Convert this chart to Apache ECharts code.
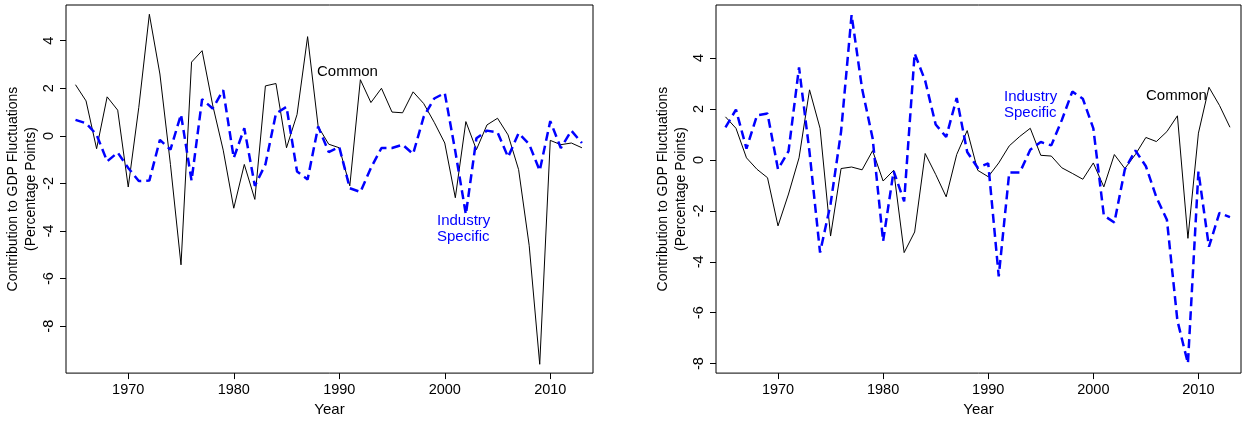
<!DOCTYPE html>
<html>
<head>
<meta charset="utf-8">
<script src="https://cdn.jsdelivr.net/npm/echarts@6/dist/echarts.min.js"></script>
<style>
html,body{margin:0;padding:0;background:#fff;}
#c{width:1243px;height:422px;}
</style>
</head>
<body>
<div id="c"></div>
<script>
const years = [1965,1966,1967,1968,1969,1970,1971,1972,1973,1974,1975,1976,1977,1978,1979,1980,1981,1982,1983,1984,1985,1986,1987,1988,1989,1990,1991,1992,1993,1994,1995,1996,1997,1998,1999,2000,2001,2002,2003,2004,2005,2006,2007,2008,2009,2010,2011,2012,2013];

const leftCommon = [2.15,1.47,-0.54,1.64,1.08,-2.15,1.2,5.11,2.6,-1.2,-5.42,3.1,3.58,1.3,-0.6,-3.04,-1.2,-2.67,2.1,2.2,-0.5,0.9,4.17,0.39,-0.35,-0.5,-2.1,2.36,1.4,2.0,1.0,0.97,1.85,1.36,0.57,-0.3,-2.6,0.6,-0.58,0.46,0.74,0.04,-1.42,-4.6,-9.6,-0.19,-0.37,-0.3,-0.5];
const leftIndustry = [0.67,0.53,0.05,-1.07,-0.7,-1.35,-1.9,-1.88,-0.17,-0.58,0.9,-1.88,1.54,1.15,1.92,-0.93,0.32,-2.1,-1.2,0.94,1.22,-1.5,-1.83,0.39,-0.68,-0.47,-2.2,-2.36,-1.35,-0.51,-0.51,-0.37,-0.76,0.8,1.57,1.8,-0.65,-3.3,-0.1,0.22,0.15,-0.89,0.11,-0.35,-1.46,0.62,-0.51,0.22,-0.3];

const rightCommon = [1.69,1.24,0.08,-0.37,-0.7,-2.59,-1.34,0.08,2.75,1.24,-2.99,-0.34,-0.28,-0.39,0.36,-0.83,-0.41,-3.64,-2.83,0.25,-0.57,-1.45,0.21,1.15,-0.41,-0.66,-0.12,0.55,0.92,1.24,0.18,0.15,-0.31,-0.53,-0.76,-0.12,-1.06,0.21,-0.34,0.21,0.88,0.72,1.11,1.73,-3.08,1.05,2.85,2.14,1.28];
const rightIndustry = [1.28,1.97,0.44,1.75,1.82,-0.37,0.34,3.63,0.3,-3.64,-1.73,1.11,5.69,2.79,0.85,-3.19,-0.44,-1.63,4.18,3.11,1.39,0.9,2.43,0.31,-0.31,-0.14,-4.57,-0.5,-0.5,0.4,0.7,0.57,1.56,2.68,2.4,1.24,-2.18,-2.46,-0.37,0.37,-0.25,-1.47,-2.35,-6.31,-7.99,-0.46,-3.41,-2.08,-2.25];

const xTicks = [1970,1980,1990,2000,2010];
const yTicks = [-8,-6,-4,-2,0,2,4];

const seriesNames = ['Common','Industry Specific'];
const yTitle = 'Contribution to GDP Fluctuations\n(Percentage Points)';
const xTitle = 'Year';

const FONT = 'Liberation Sans, Arial, sans-serif';
const pairs = (vals) => years.map((y,i)=>[y, vals[i]]);

function xAxisCfg(gi){
  return {
    type:'value', gridIndex:gi, min:1964.1, max:2014.05,
    axisLine:{show:false, onZero:false},
    axisTick:{show:true, inside:false, length:6, lineStyle:{color:'#000',width:1}, customValues:xTicks},
    axisLabel:{show:true, margin:9, color:'#000', fontSize:14.5, fontFamily:FONT, customValues:xTicks, formatter:(v)=>String(v)},
    splitLine:{show:false},
    name:xTitle, nameLocation:'middle', nameGap:27,
    nameTextStyle:{color:'#000', fontSize:15, fontFamily:FONT}
  };
}
function yAxisCfg(gi,mn,mx){
  return {
    type:'value', gridIndex:gi, min:mn, max:mx,
    axisLine:{show:false, onZero:false},
    axisTick:{show:true, inside:false, length:6, lineStyle:{color:'#000',width:1}, customValues:yTicks},
    axisLabel:{show:true, rotate:90, margin:10, color:'#000', fontSize:14.5, fontFamily:FONT, customValues:yTicks, formatter:(v)=>String(v)},
    splitLine:{show:false},
    name:yTitle, nameLocation:'middle', nameRotate:90, nameGap:24,
    nameTextStyle:{color:'#000', fontSize:14, fontFamily:FONT, lineHeight:18, align:'center'}
  };
}

const chart = echarts.init(document.getElementById('c'), null, {renderer:'canvas'});
chart.setOption({
  animation:false,
  backgroundColor:'#fff',
  grid:[
    {left:66, top:5, width:527, height:373, show:true, borderColor:'#000', borderWidth:1, backgroundColor:'transparent'},
    {left:716, top:5, width:525, height:373, show:true, borderColor:'#000', borderWidth:1, backgroundColor:'transparent'}
  ],
  xAxis:[xAxisCfg(0), xAxisCfg(1)],
  yAxis:[yAxisCfg(0,-9.97,5.5), yAxisCfg(1,-8.37,6.08)],
  series:[
    {name:seriesNames[0], type:'line', xAxisIndex:0, yAxisIndex:0, data:pairs(leftCommon), showSymbol:false, symbol:'none', lineStyle:{color:'#000', width:1}, z:2},
    {name:seriesNames[1], type:'line', xAxisIndex:0, yAxisIndex:0, data:pairs(leftIndustry), showSymbol:false, symbol:'none', lineStyle:{color:'#0000ff', width:2.5, type:[9,5]}, z:3},
    {name:seriesNames[0], type:'line', xAxisIndex:1, yAxisIndex:1, data:pairs(rightCommon), showSymbol:false, symbol:'none', lineStyle:{color:'#000', width:1}, z:2},
    {name:seriesNames[1], type:'line', xAxisIndex:1, yAxisIndex:1, data:pairs(rightIndustry), showSymbol:false, symbol:'none', lineStyle:{color:'#0000ff', width:2.5, type:[9,5]}, z:3}
  ],
  graphic:[
    {type:'text', left:317, top:64, style:{text:'Common', fill:'#000', font:'15px '+FONT}},
    {type:'text', left:437, top:213, style:{text:'Industry\nSpecific', fill:'#0000ff', font:'15px '+FONT, align:'center', lineHeight:16, width:56}},
    {type:'text', left:1004, top:89, style:{text:'Industry\nSpecific', fill:'#0000ff', font:'15px '+FONT, lineHeight:16}},
    {type:'text', left:1146, top:88, style:{text:'Common', fill:'#000', font:'15px '+FONT}}
  ]
});
</script>
</body>
</html>
